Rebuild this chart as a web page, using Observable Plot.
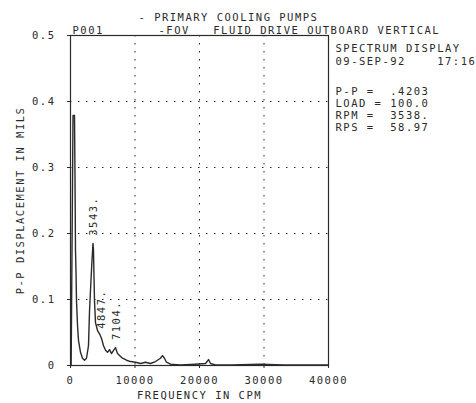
<!DOCTYPE html>
<html>
<head>
<meta charset="utf-8">
<script src="https://cdn.jsdelivr.net/npm/d3@7"></script>
<script src="https://cdn.jsdelivr.net/npm/@observablehq/plot@0.6"></script>
<style>
  html, body { margin: 0; padding: 0; background: #fff; }
  svg text { white-space: pre; letter-spacing: 1.5px; }
</style>
</head>
<body>
<div id="chart"></div>
<script>
// Spectrum: frequency (CPM) and P-P displacement (mils)
const freq = [100, 390, 620, 700, 775, 850, 930, 1085, 1240, 1550, 1860, 2170, 2480, 2790, 2950, 3100, 3330, 3490, 3565, 3640, 3720, 3875, 4190, 4500, 4810, 5120, 5430, 5740, 6050, 6360, 6670, 6980, 7290, 7600, 8060, 8680, 9300, 10080, 10850, 11630, 12400, 13180, 13950, 14260, 14570, 14880, 15500, 17050, 19380, 20930, 21400, 21700, 22480, 25000, 29460, 33000, 36000, 39900];
const amp  = [0.0, 0.379, 0.379, 0.283, 0.174, 0.144, 0.098, 0.061, 0.038, 0.020, 0.011, 0.008, 0.011, 0.030, 0.083, 0.114, 0.159, 0.185, 0.174, 0.136, 0.098, 0.065, 0.053, 0.048, 0.041, 0.030, 0.023, 0.020, 0.024, 0.018, 0.023, 0.027, 0.018, 0.015, 0.011, 0.008, 0.006, 0.005, 0.003, 0.005, 0.003, 0.006, 0.011, 0.015, 0.011, 0.005, 0.002, 0.001, 0.002, 0.003, 0.009, 0.003, 0.001, 0.001, 0.002, 0.001, 0.001, 0.001];

// Peak annotations
const peakFreq = [3543, 4847, 7104];
const peakAmp  = [0.186, 0.045, 0.028];
const peakText = ["3543.", "4847.", "7104."];

const xTicks = [0, 10000, 20000, 30000, 40000];
const yTicks = [0, 0.1, 0.2, 0.3, 0.4, 0.5];
const xGrid = [10000, 20000, 30000];
const yGrid = [0.1, 0.2, 0.3, 0.4];

const title1 = "- PRIMARY COOLING PUMPS";
const title2 = "P001       -FOV   FLUID DRIVE OUTBOARD VERTICAL";
const sideLines = ["SPECTRUM DISPLAY", "09-SEP-92    17:16", "P-P =  .4203", "LOAD = 100.0", "RPM =  3538.", "RPS =  58.97"];
const sideOffsets = [9, 22, 52, 64, 76, 88];
const xLabel = "FREQUENCY IN CPM";
const yLabel = "P-P DISPLACEMENT IN MILS";

const spectrum = freq.map((f, i) => ({f, v: amp[i]}));
const peaks = peakFreq.map((f, i) => ({f, v: peakAmp[i], t: peakText[i]}));

const ink = "#2a2a2a";
const font = "DejaVu Sans Mono";

const sideMarks = sideLines.map((s, i) =>
  Plot.text([s], {frameAnchor: "top-right", textAnchor: "start", dx: 7, dy: sideOffsets[i], fill: ink})
);

const chart = Plot.plot({
  width: 476,
  height: 403,
  marginLeft: 70,
  marginRight: 148,
  marginTop: 35,
  marginBottom: 38,
  style: {fontFamily: font, fontSize: "10.5px", color: ink, background: "#fff", overflow: "visible"},
  x: {domain: [0, 40000]},
  y: {domain: [0, 0.5]},
  marks: [
    Plot.gridX(xGrid, {stroke: ink, strokeOpacity: 1, strokeDasharray: "1.5,6.5"}),
    Plot.gridY(yGrid, {stroke: ink, strokeOpacity: 1, strokeDasharray: "1.5,6.5"}),
    Plot.axisX({ticks: xTicks, tickFormat: d => String(d), tickSize: 3, tickPadding: 8, label: null, fill: ink}),
    Plot.axisY({ticks: yTicks, tickFormat: d => String(d), tickSize: 3, tickPadding: 12, label: null, fill: ink}),
    Plot.frame({stroke: ink, strokeWidth: 1.2}),
    Plot.line(spectrum, {x: "f", y: "v", stroke: ink, strokeWidth: 1.4, curve: "linear"}),
    Plot.text(peaks, {x: "f", y: "v", text: "t", rotate: -90, textAnchor: "start", dy: -7, fill: ink}),
    Plot.text([title1], {frameAnchor: "top-left", textAnchor: "start", dx: 68, dy: -22, fill: ink}),
    Plot.text([title2], {frameAnchor: "top-left", textAnchor: "start", dx: 2, dy: -9, fill: ink}),
    ...sideMarks,
    Plot.text([xLabel], {frameAnchor: "bottom", textAnchor: "middle", dy: 33, fill: ink}),
    Plot.text([yLabel], {frameAnchor: "left", textAnchor: "middle", rotate: -90, dx: -50, fill: ink})
  ]
});
document.getElementById("chart").appendChild(chart);
</script>
</body>
</html>
